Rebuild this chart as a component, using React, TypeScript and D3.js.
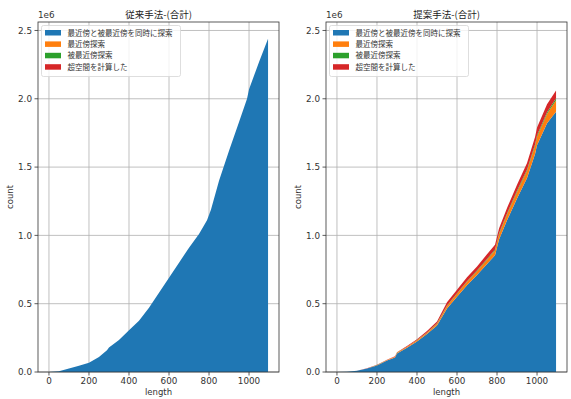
import React from 'react';
import * as d3 from 'd3';

// length values where the curves were read (shared by both panels)
const lengths = [0, 50, 100, 150, 200, 250, 290, 300, 350, 400, 450, 500, 550, 600, 650, 700, 750, 790, 810, 850, 900, 950, 990, 1000, 1050, 1095];

// conventional method: everything is in the first series (x 1e6)
const convBoth = [0, 0.005, 0.025, 0.045, 0.068, 0.11, 0.16, 0.18, 0.235, 0.305, 0.375, 0.47, 0.58, 0.69, 0.8, 0.91, 1.01, 1.11, 1.19, 1.4, 1.62, 1.83, 2.0, 2.07, 2.27, 2.44];
const convNN = lengths.map(() => 0);
const convRNN = lengths.map(() => 0);
const convHyper = lengths.map(() => 0);

// proposed method (x 1e6)
const propBoth = [0, 0.002, 0.009, 0.025, 0.048, 0.084, 0.107, 0.136, 0.178, 0.224, 0.278, 0.34, 0.465, 0.55, 0.635, 0.71, 0.79, 0.855, 0.97, 1.11, 1.27, 1.42, 1.595, 1.66, 1.82, 1.905];
const propNN = [0, 0, 0.0005, 0.001, 0.002, 0.003, 0.004, 0.005, 0.006, 0.008, 0.01, 0.013, 0.018, 0.022, 0.025, 0.028, 0.032, 0.035, 0.038, 0.043, 0.048, 0.053, 0.06, 0.062, 0.07, 0.085];
const propRNN = [0, 0, 0, 0.0002, 0.0005, 0.0005, 0.001, 0.001, 0.001, 0.002, 0.002, 0.003, 0.004, 0.004, 0.005, 0.005, 0.006, 0.006, 0.007, 0.008, 0.009, 0.01, 0.011, 0.011, 0.012, 0.013];
const propHyper = [0, 0, 0.0005, 0.001, 0.002, 0.003, 0.003, 0.003, 0.005, 0.006, 0.01, 0.014, 0.023, 0.026, 0.028, 0.03, 0.034, 0.036, 0.035, 0.04, 0.043, 0.047, 0.054, 0.057, 0.058, 0.057];

const seriesNames = ['最近傍と被最近傍を同時に探索', '最近傍探索', '被最近傍探索', '超空間を計算した'];
const colors = ['#1f77b4', '#ff7f0e', '#2ca02c', '#d62728'];
const xTicks = [0, 200, 400, 600, 800, 1000];
const yTicks = [0, 0.5, 1.0, 1.5, 2.0, 2.5];

const CJK = '"Noto Sans CJK JP", "DejaVu Sans", sans-serif';
const LATIN = '"DejaVu Sans", sans-serif';

type PanelProps = { left: number; title: string; series: number[][] };

function Panel({ left, title, series }: PanelProps) {
  const w = 241;
  const top = 22;
  const bottom = 372;
  const x = d3.scaleLinear().domain([-54.75, 1149.75]).range([left, left + w]);
  const y = d3.scaleLinear().domain([0, 2.562]).range([bottom, top]);

  const rows = lengths.map((len, i) => {
    const r: Record<string, number> = { len };
    series.forEach((s, k) => { r['s' + k] = s[i]; });
    return r;
  });
  const stack = d3.stack<Record<string, number>>().keys(series.map((_, k) => 's' + k));
  const layers = stack(rows);
  const area = d3.area<d3.SeriesPoint<Record<string, number>>>()
    .x((d) => x(d.data.len))
    .y0((d) => y(d[0]))
    .y1((d) => y(d[1]));

  const midX = left + w / 2;
  return (
    <g fontFamily={LATIN}>
      {xTicks.map((t) => (
        <line key={'gx' + t} x1={x(t)} x2={x(t)} y1={top} y2={bottom} stroke="#b0b0b0" strokeWidth={0.8} />
      ))}
      {yTicks.map((t) => (
        <line key={'gy' + t} x1={left} x2={left + w} y1={y(t)} y2={y(t)} stroke="#b0b0b0" strokeWidth={0.8} />
      ))}
      {layers.map((l, k) => (
        <path key={'a' + k} d={area(l) || ''} fill={colors[k]} />
      ))}
      <rect x={left} y={top} width={w} height={bottom - top} fill="none" stroke="#333" strokeWidth={0.8} />
      {xTicks.map((t) => (
        <g key={'tx' + t}>
          <line x1={x(t)} x2={x(t)} y1={bottom} y2={bottom + 3.5} stroke="#333" strokeWidth={0.8} />
          <text x={x(t)} y={bottom + 12} fontSize={8.8} textAnchor="middle" fill="#333">{t}</text>
        </g>
      ))}
      {yTicks.map((t) => (
        <g key={'ty' + t}>
          <line x1={left - 3.5} x2={left} y1={y(t)} y2={y(t)} stroke="#333" strokeWidth={0.8} />
          <text x={left - 6} y={y(t) + 3.2} fontSize={8.8} textAnchor="end" fill="#333">{t.toFixed(1)}</text>
        </g>
      ))}
      <text x={left} y={17.5} fontSize={8.8} fill="#333">1e6</text>
      <text x={midX} y={18} fontSize={9.5} textAnchor="middle" fill="#222" fontFamily={CJK}>{title}</text>
      <text x={midX} y={395} fontSize={8.5} textAnchor="middle" fill="#333">length</text>
      <text transform={`translate(${left - 25},197) rotate(-90)`} fontSize={8.5} textAnchor="middle" fill="#333">count</text>
      <g transform={`translate(${left + 3.5},25.5)`} fontFamily={CJK}>
        <rect x={0} y={0} width={139} height={51} rx={2} fill="white" fillOpacity={0.8} stroke="#d6d6d6" strokeWidth={0.8} />
        {seriesNames.map((n, k) => (
          <g key={n} transform={`translate(0,${7 + k * 11.4})`}>
            <rect x={3.5} y={-2.5} width={16} height={5.5} fill={colors[k]} />
            <text x={26} y={3} fontSize={7.5} fill="#333">{n}</text>
          </g>
        ))}
      </g>
    </g>
  );
}

export default function App() {
  return (
    <svg width={571} height={399} style={{ position: 'absolute', left: 0, top: 0, background: 'white' }}>
      <Panel left={38} title="従来手法-(合計)" series={[convBoth, convNN, convRNN, convHyper]} />
      <Panel left={326} title="提案手法-(合計)" series={[propBoth, propNN, propRNN, propHyper]} />
    </svg>
  );
}
